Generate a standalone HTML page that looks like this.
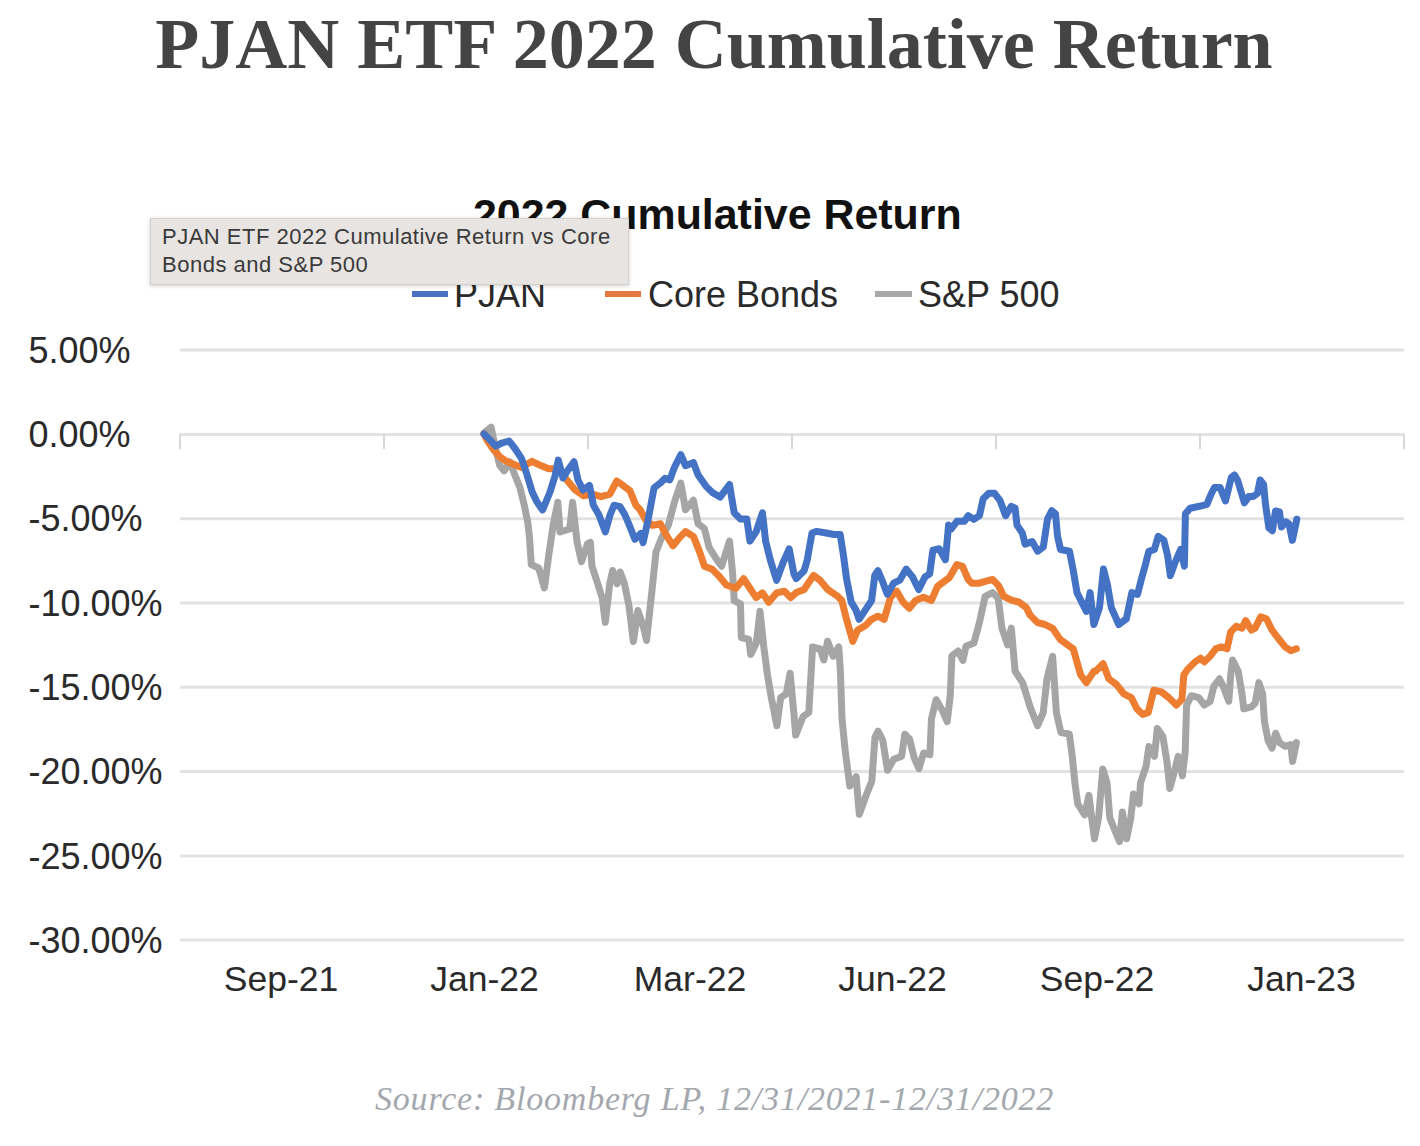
<!DOCTYPE html>
<html>
<head>
<meta charset="utf-8">
<style>
html,body{margin:0;padding:0;background:#fff;width:1420px;height:1146px;overflow:hidden;position:relative}
.t{position:absolute;white-space:nowrap;line-height:1}
#title{left:0;width:1420px;text-align:center;top:8.4px;font-family:"Liberation Serif",serif;font-weight:bold;font-size:72px;padding-left:8px;box-sizing:border-box;color:#444}
#ctitle{left:473px;top:192.5px;font-family:"Liberation Sans",sans-serif;font-weight:bold;font-size:42.9px;color:#111}
.sans{font-family:"Liberation Sans",sans-serif;color:#2a2a2a}
.yl{font-size:36px;left:28.5px}
.xl{font-size:35.5px;top:961.5px;width:200px;text-align:center}
.lg{font-size:36px;top:276.5px}
#src{left:375px;top:1082px;font-family:"Liberation Serif",serif;font-style:italic;font-size:34px;letter-spacing:0.8px;color:#a3a7ae}
#tip{position:absolute;left:150px;top:218px;width:479px;height:67px;background:#e8e4e1;border:1px solid #d4d0cd;box-shadow:0 1px 4px rgba(0,0,0,0.2);box-sizing:border-box}
#tip div{position:absolute;left:11px;font-family:"Liberation Sans",sans-serif;font-size:22px;letter-spacing:0.5px;color:#3a3a3a;white-space:nowrap;line-height:1}
svg{position:absolute;left:0;top:0}
</style>
</head>
<body>
<div class="t" id="title">PJAN ETF 2022 Cumulative Return</div>
<div class="t" id="ctitle">2022 Cumulative Return</div>

<svg width="1420" height="1146" viewBox="0 0 1420 1146">
<g stroke="#e2e2e2" stroke-width="3" fill="none">
<line x1="180" y1="350" x2="1404" y2="350"/>
<line x1="180" y1="434.4" x2="1404" y2="434.4"/>
<line x1="180" y1="518.7" x2="1404" y2="518.7"/>
<line x1="180" y1="603" x2="1404" y2="603"/>
<line x1="180" y1="687.3" x2="1404" y2="687.3"/>
<line x1="180" y1="771.6" x2="1404" y2="771.6"/>
<line x1="180" y1="856" x2="1404" y2="856"/>
<line x1="180" y1="940" x2="1404" y2="940"/>
</g>
<g stroke="#d8d8d8" stroke-width="2" fill="none">
<line x1="180" y1="434" x2="180" y2="449"/>
<line x1="384" y1="434" x2="384" y2="449"/>
<line x1="588" y1="434" x2="588" y2="449"/>
<line x1="792" y1="434" x2="792" y2="449"/>
<line x1="996" y1="434" x2="996" y2="449"/>
<line x1="1200" y1="434" x2="1200" y2="449"/>
<line x1="1404" y1="434" x2="1404" y2="449"/>
</g>
<g stroke-width="6" stroke-linecap="butt">
<line x1="412" y1="294" x2="448" y2="294" stroke="#4a72c2"/>
<line x1="605" y1="294" x2="641" y2="294" stroke="#e57a40"/>
<line x1="875" y1="294" x2="912" y2="294" stroke="#a8a8a8"/>
</g>
<g id="lines" fill="none" stroke-width="7" stroke-linejoin="round" stroke-linecap="round">
<polyline stroke="#a5a5a5" points="484,433 491.1,427.2 495.5,448.2 499.8,465.6 504.2,470.9 510,462 514.6,474.4 519.9,487.4 524.2,504.9 527.7,522 529.4,536.3 531.3,564.5 538.8,568.2 544.4,588 548.9,554.2 553.3,524.5 557.8,502.2 560,532 569.7,529 572.6,502.2 577.1,542.3 581.5,561.6 587.5,543.8 590.4,542.3 591.9,565.8 597.8,583.8 602.3,598.6 605.3,622.4 609.7,583.8 612.7,570.5 617.1,583.8 620.1,572 624.5,583.8 629,606.1 633.4,641.6 637.9,610.5 643.8,628.3 646.5,640.5 651.5,595 656,552 661.6,537.8 668.3,525.4 674.5,501.8 680.8,483 685.5,509.7 693.4,500.2 698.1,523.8 704.4,528.5 709.1,547.3 716.9,559.9 721.6,566.2 729.5,541.1 732.6,572.5 734.2,600.7 740.5,603.9 741.3,637.5 748.8,639.4 750.7,654.4 756.3,643.2 760,611.3 763.8,646.9 767.5,675 771.3,697.6 776.9,725.7 780.7,697.6 786.3,693.8 790.1,673.2 793.8,712.6 795.7,735.1 803.2,716.3 808.8,712.6 812.6,646.9 820.1,648.8 823.8,660 827.6,641.3 833.2,656.3 838.8,646.9 840.4,671.4 842,718.5 845.1,749.9 849.8,786 856.1,776.6 859.3,814.3 865.5,797 871.8,781.3 875,737.3 878.1,731.1 882.8,740.5 887.5,770.3 893.8,759.3 901.6,756.2 904.8,734.2 909.5,738.9 914.2,757.8 918.9,768.7 923.6,753 929.9,754.6 931.5,718.5 936.2,699.7 942.5,710.7 947.2,721.6 950.3,695 951.9,655.7 958.2,651 962.9,660.4 966,646.3 973.9,643.1 979.4,622.5 985.1,596.4 992.6,592.6 998.2,598.2 1001.9,628.1 1007.6,645 1011.3,628.1 1015.1,671.3 1022.6,682.6 1030.1,706.9 1037.6,725.7 1043.2,712.6 1047,678.8 1052.6,656.3 1056.4,712.6 1060.9,732.6 1069.3,734 1072.1,754.9 1074.9,782.8 1077.7,803.8 1084.7,814.9 1088.9,795.4 1091.7,817.7 1094.5,838.7 1098.6,817.7 1102.8,768.9 1107,782.8 1109.8,817.7 1115.4,831.7 1119.6,841.5 1122.4,812.1 1126.6,838.7 1130.8,817.7 1133.5,794 1139.1,803.8 1140.5,782.8 1146.1,766.1 1148.9,746.5 1154.5,756.3 1157.3,728.4 1162.9,736.8 1167,761.9 1169.8,788.4 1174,773.1 1178.2,756.3 1182.4,775.8 1185.2,752.1 1186.6,705.1 1191.3,695.7 1198.8,697.6 1204.4,705.1 1210.1,701.3 1213.8,686.3 1219.5,678.8 1223.2,686.3 1228.8,701.3 1230.7,675 1232.6,660 1238.2,671.3 1242,693.8 1243.8,708.8 1251.3,706.9 1255.1,703.2 1258.9,682.6 1262.6,693.8 1264.5,722 1268.2,740.7 1272,748.2 1275.7,733.2 1279.5,742.6 1285.1,746.3 1290.8,744.5 1292.6,761.4 1296.4,742.6"/>
<polyline stroke="#ed7d31" points="484,434 486.7,439.5 493,449 499.8,456.9 506,461 512.9,463.9 521.6,467.4 532.1,461.3 540.8,465.6 548.7,468.8 557.5,468.8 566.2,479.3 574.9,489.7 583.6,495.8 592.4,494.1 601.1,496.7 609.8,494.1 616.8,481 622.9,485.4 629.9,490.6 636,505.4 640,509.7 646.3,520.7 652.6,525.4 660.4,523.8 665.1,533.2 673,545.8 679.3,537.9 685.5,531.6 693.4,536.4 699.7,552.1 704.4,566.2 712.2,569.3 718.5,575.6 726.4,585 735.8,588.2 743.6,578.7 749.9,588.2 756.2,597.6 762.5,592.9 768.7,602.3 776.6,592.9 784.4,591.3 790.7,597.6 796.3,592.6 804.1,589.5 813.6,575.4 819.8,580.1 827.7,589.5 837.1,595.8 841.8,600.5 846.5,619.3 852.8,641.3 857.5,630.3 865.4,625.6 871.6,619.3 877.9,616.2 884.2,619.3 890.5,597.3 896.8,591.1 903,602.1 909.3,608.3 915.6,600.5 923.5,597.3 931.3,600.5 937.6,586.4 943.9,581.6 949.4,577.6 956.9,564.5 962.5,566.3 968.2,579.5 971.9,583.2 979.4,583.2 985.1,581.4 992.6,579.5 998.2,585.1 1003.8,596.4 1011.3,600.1 1018.8,602 1026.3,607.6 1030.1,615.1 1037.6,622.6 1045.1,624.5 1052.6,628.3 1060.1,639.4 1073.2,648.8 1080.7,675 1086.4,682.6 1093.9,671.3 1095.6,671.3 1103.1,663.8 1108.8,678.8 1116.3,684.4 1123.8,693.8 1131.3,697.6 1136.9,708.8 1142.5,714.4 1148.2,712.6 1153.8,690.1 1161.3,691.9 1168.8,697.6 1176.3,705.1 1181.9,699.4 1183.8,675 1187.6,669.4 1195.1,661.9 1200.7,658.2 1204.4,661.9 1210,656.3 1215.7,648.8 1221.3,646.9 1227,648.8 1230.7,632 1236.3,626.3 1242,628.1 1245.7,620.6 1251.3,630 1255.1,628.1 1260.7,616.9 1266.4,618.8 1272,630 1277.6,637.5 1285.1,646.9 1290.8,650.7 1296.4,648.8"/>
<polyline stroke="#4472c4" points="484,434 490,440 495.5,446 502,443 509,441 514.6,448 521.6,458.6 526.9,474.4 532.1,491.8 537,502 542.6,510 550,492 555,476 558.3,460.1 563,478 568,470 574,461.8 578,480 583,490 589.5,485.4 593.4,505.2 599,515 605.3,531.9 610,515 614.1,505.2 620.1,506.7 625,515 629,524.5 634.9,539.3 640.8,533.4 643.1,542.6 647.9,520.7 654.1,487.7 660.4,483 665.1,478.3 669.8,479.8 674.5,467.3 680.8,454.7 685.5,465.7 693.4,462.6 698.1,475.1 705.9,486.1 712.2,492.4 720.1,497.1 729.5,484.5 734.2,512.8 740.5,519.1 746.8,519.1 749.9,541.1 756.2,531.6 762.5,512.8 765.6,541.1 770.3,559.9 776.6,580.3 782.9,563 789.2,548.9 793.9,574 796.3,578.5 804.1,570.7 807.3,559.7 812,533 816.7,531.4 826.1,533 834,534.5 840.2,534.5 843.4,555 846.5,578.5 851.2,602.1 855.9,609.9 859.1,619.3 865.4,609.9 871.6,600.5 874.8,575.4 877.9,570.7 882.6,581.6 887.3,594.2 893.6,583.2 899.9,580.1 906.2,569.1 912.5,576.9 918.7,589.5 925,576.9 929.7,573.8 932.9,550.2 939.2,548.7 945.4,559.7 948.6,525.1 951.3,528.8 956.9,521.3 964.4,521.3 968.2,515.7 973.8,519.4 979.4,515.7 983.2,498.8 988.8,493.2 994.4,493.2 1000.1,500.7 1005.7,515.7 1011.3,506.3 1015.1,508.2 1017,525.1 1022.3,533 1025.1,544.2 1032.1,541.5 1037.7,551.2 1043.3,547 1047.5,519.1 1051.7,510.7 1055.5,514 1057.5,536 1060.5,549.5 1069.5,551.3 1073.2,570.1 1077,592.6 1082.6,603.9 1086.4,611.4 1090.1,592.6 1093.9,624.5 1099.5,607.6 1103.5,569 1107.5,585.1 1111.3,607.6 1118.8,624.5 1126.3,618.9 1131.9,592.6 1137.5,594.5 1141.3,579.5 1145,566.3 1148.8,551.3 1154.4,549.5 1158.2,536.3 1163.8,540.1 1167.5,555.1 1170.4,575.7 1175,562.6 1180.7,549.5 1184.4,566.3 1185.4,513.8 1190.1,508.2 1199.4,506.3 1206.9,504.4 1210.7,495 1214.4,487.5 1220.1,487.5 1225.5,501 1231.3,477.5 1234.5,475 1237.5,480 1244.4,502.8 1248.8,496.6 1253.2,496.6 1257.5,493.2 1260.1,480 1263.6,484.4 1265.4,503.6 1268.9,528 1272.4,530.7 1275.5,511 1279.5,512 1281.5,527 1286,522 1289,524 1292.4,540.3 1296.8,519.3"/>
</g>
</svg>

<div class="t sans lg" style="left:454px">PJAN</div>
<div class="t sans lg" style="left:648px">Core Bonds</div>
<div class="t sans lg" style="left:918px">S&amp;P 500</div>

<div class="t sans yl" style="top:332.7px">5.00%</div>
<div class="t sans yl" style="top:417.0px">0.00%</div>
<div class="t sans yl" style="top:501.3px">-5.00%</div>
<div class="t sans yl" style="top:585.6px">-10.00%</div>
<div class="t sans yl" style="top:669.9px">-15.00%</div>
<div class="t sans yl" style="top:754.2px">-20.00%</div>
<div class="t sans yl" style="top:838.5px">-25.00%</div>
<div class="t sans yl" style="top:922.8px">-30.00%</div>

<div class="t sans xl" style="left:181.0px">Sep-21</div>
<div class="t sans xl" style="left:384.5px">Jan-22</div>
<div class="t sans xl" style="left:590.0px">Mar-22</div>
<div class="t sans xl" style="left:792.5px">Jun-22</div>
<div class="t sans xl" style="left:997.0px">Sep-22</div>
<div class="t sans xl" style="left:1201.5px">Jan-23</div>

<div class="t" id="src">Source: Bloomberg LP, 12/31/2021-12/31/2022</div>

<div id="tip"><div style="top:7px">PJAN ETF 2022 Cumulative Return vs Core</div><div style="top:35px">Bonds and S&amp;P 500</div></div>
</body>
</html>
